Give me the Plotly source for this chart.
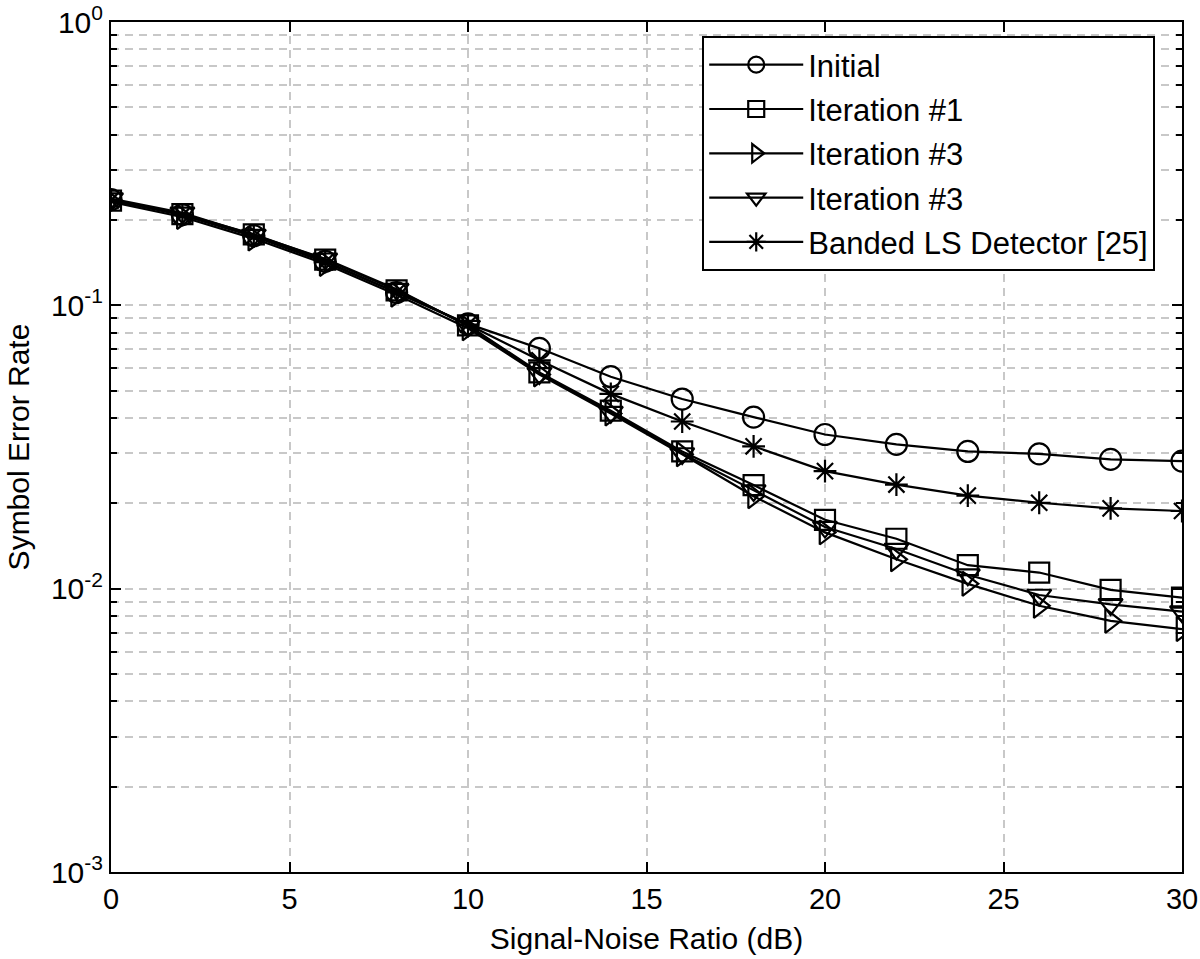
import plotly.graph_objects as go

snr = [0, 2, 4, 6, 8, 10, 12, 14, 16, 18, 20, 22, 24, 26, 28, 30]
initial = [0.236, 0.209, 0.176, 0.143, 0.111, 0.0860, 0.0705, 0.0560, 0.0467, 0.0403, 0.0350, 0.0323, 0.0305, 0.0299, 0.0286, 0.0282]
iter1 = [0.234, 0.210, 0.178, 0.145, 0.113, 0.0850, 0.0580, 0.0425, 0.0305, 0.0232, 0.0175, 0.0150, 0.0121, 0.0114, 0.0099, 0.0093]
iter3_right = [0.232, 0.205, 0.172, 0.140, 0.109, 0.0830, 0.0570, 0.0415, 0.0298, 0.0212, 0.0158, 0.0127, 0.0104, 0.0087, 0.0077, 0.0072]
iter3_down = [0.238, 0.212, 0.177, 0.146, 0.114, 0.0845, 0.0575, 0.0420, 0.0300, 0.0222, 0.0165, 0.0138, 0.0112, 0.0095, 0.0088, 0.0083]
banded = [0.235, 0.208, 0.175, 0.142, 0.111, 0.0855, 0.0640, 0.0487, 0.0389, 0.0318, 0.0260, 0.0233, 0.0213, 0.0201, 0.0192, 0.0188]

names = ["Initial", "Iteration #1", "Iteration #3", "Iteration #3", "Banded LS Detector [25]"]
series = [initial, iter1, iter3_right, iter3_down, banded]
symbols = ["circle-open", "square-open", "triangle-right-open", "triangle-down-open", "asterisk-open"]
sizes = [21, 20, 21, 21, 19]

y_major = [1e-3, 1e-2, 1e-1, 1]
y_major_text = ["10<sup>-3</sup>", "10<sup>-2</sup>", "10<sup>-1</sup>", "10<sup>0</sup>"]
y_minor = [m * 10 ** e for e in (-3, -2, -1) for m in range(2, 10)]
x_ticks = [0, 5, 10, 15, 20, 25, 30]

FONT = "Liberation Sans, Arial, sans-serif"

fig = go.Figure()
for i, (nm, ys, sym, sz) in enumerate(zip(names, series, symbols, sizes)):
    fig.add_trace(go.Scatter(
        x=snr, y=ys, name=nm, mode="lines+markers",
        line=dict(color="black", width=2.2),
        marker=dict(symbol=sym, size=sz, color="black", line=dict(color="black", width=2.2)),
        legendgroup=f"g{i}",
    ))

grid_color = "#c8c8c8"
fig.update_layout(
    width=1200, height=959,
    margin=dict(l=111, r=18, t=22, b=87),
    paper_bgcolor="white", plot_bgcolor="white",
    font=dict(family=FONT, size=28, color="black"),
    showlegend=True,
    legend=dict(
        x=0.975, xanchor="right", y=0.9835, yanchor="top",
        bordercolor="black", borderwidth=2, bgcolor="white",
        font=dict(family=FONT, size=31, color="black"),
        itemwidth=94, tracegroupgap=1,
    ),
    xaxis=dict(
        range=[0, 30], tickmode="array", tickvals=x_ticks, automargin=False,
        ticks="inside", ticklen=10, tickwidth=1.5, tickcolor="black",
        showline=True, linecolor="black", linewidth=2, mirror="allticks",
        showgrid=True, gridcolor=grid_color, griddash="8px,6px", gridwidth=1.5,
        zeroline=False,
        title=dict(text="Signal-Noise Ratio (dB)", font=dict(size=30), standoff=14),
        tickfont=dict(size=29),
    ),
    yaxis=dict(
        type="log", range=[-3, 0], tickmode="array", tickvals=y_major, ticktext=y_major_text,
        automargin=False,
        ticks="inside", ticklen=10, tickwidth=1.5, tickcolor="black",
        showline=True, linecolor="black", linewidth=2, mirror="allticks",
        showgrid=True, gridcolor=grid_color, griddash="8px,6px", gridwidth=1.5,
        zeroline=False,
        minor=dict(tickmode="array", tickvals=y_minor, ticks="inside", ticklen=6,
                   tickcolor="black", showgrid=True, gridcolor=grid_color,
                   griddash="8px,6px", gridwidth=1.5),
        title=dict(text="Symbol Error Rate", font=dict(size=30), standoff=12),
        tickfont=dict(size=30),
    ),
)

fig.write_html(
    "out.html",
    config={"displayModeBar": False},
    post_script="document.body.style.margin='0';document.body.style.overflow='hidden';",
)
